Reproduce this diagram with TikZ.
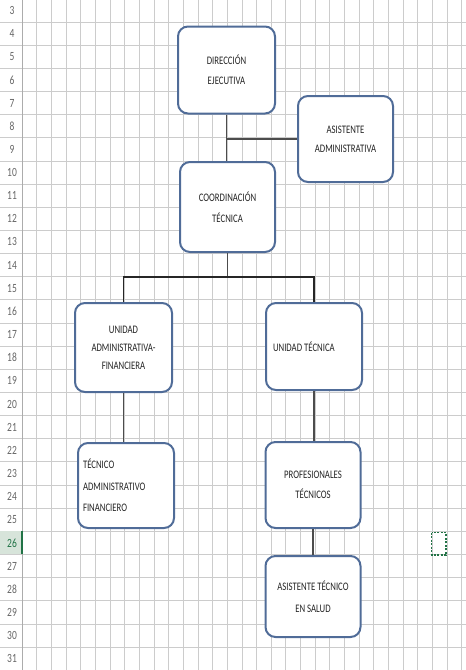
\documentclass[tikz,border=0pt]{standalone}
\usepackage{fontspec}
\setmainfont[FakeStretch=0.76]{Carlito}
\definecolor{boxblue}{RGB}{80,108,152}
\definecolor{gridgray}{RGB}{204,204,204}
\definecolor{xlgreen}{RGB}{33,115,70}
\definecolor{hdrgreen}{RGB}{215,228,218}
\begin{document}
\begin{tikzpicture}[x=1pt,y=-1pt,
  orgbox/.style={draw=boxblue, line width=2pt, rounded corners=10pt, fill=white,
    inner sep=0pt, text=black!85, align=center},
  conn/.style={draw=black!70, line width=1.2pt},
  rowlbl/.style={text=black!60, font=\fontsize{12.5}{13}\selectfont, inner sep=0pt}]
\useasboundingbox (0,0) rectangle (466,670);
\fill[white] (0,0) rectangle (466,670);
% grid
\foreach \k in {-1,...,28} \draw[gridgray, line width=0.8pt] (0,{22+\k*23.15}) -- (466,{22+\k*23.15});
\foreach \k in {1,...,30} \draw[gridgray, line width=0.8pt] ({22+\k*14.66},0) -- ({22+\k*14.66},670);
\draw[gray!65, line width=0.8pt] (22,0) -- (22,670);
% selected row header
\fill[hdrgreen] (0,531.3) rectangle (21.5,554.45);
\draw[xlgreen, line width=1.6pt] (22,531.3) -- (22,554.45);
% row numbers
\foreach \n in {3,...,25,27,28,29,30,31}
  \node[rowlbl] (row\n) at (12,{22+(\n-4)*23.15+11.6}) {\n};
\node[rowlbl, text=xlgreen] (row26) at (12,{22+22*23.15+11.6}) {26};
% selected cell
\draw[xlgreen, line width=1.5pt, dash pattern=on 2pt off 1.5pt] (431.5,532.5) rectangle (446,555);
% boxes
\node[orgbox, minimum width=97, minimum height=87, font=\fontsize{11.5}{20}\selectfont] (dir) at (226.5,70) {DIRECCIÓN\\EJECUTIVA};
\node[orgbox, minimum width=95, minimum height=86, font=\fontsize{11.5}{19}\selectfont] (asis) at (345.5,139) {ASISTENTE\\ADMINISTRATIVA};
\node[orgbox, minimum width=95, minimum height=90, font=\fontsize{11.5}{21}\selectfont] (coord) at (227.5,207) {COORDINACIÓN\\TÉCNICA};
\node[orgbox, minimum width=97, minimum height=89, font=\fontsize{11.5}{18}\selectfont] (ua) at (123.5,347.5) {UNIDAD\\ADMINISTRATIVA-\\FINANCIERA};
\node[orgbox, minimum width=96, minimum height=85, text width=86, align=flush left, font=\fontsize{11.5}{21.5}\selectfont] (tadm) at (126,485.5) {TÉCNICO\\ADMINISTRATIVO\\FINANCIERO};
\node[orgbox, minimum width=96, minimum height=87, text width=82, align=flush left, font=\fontsize{11.5}{20}\selectfont] (ut) at (314,346.5) {UNIDAD TÉCNICA};
\node[orgbox, minimum width=95, minimum height=86, font=\fontsize{11.5}{20}\selectfont] (prof) at (313,485) {PROFESIONALES\\TÉCNICOS};
\node[orgbox, minimum width=95, minimum height=81, font=\fontsize{11.5}{22}\selectfont] (ats) at (313,596.5) {ASISTENTE TÉCNICO\\EN SALUD};
% connectors
\coordinate (branch) at (227.5,277);
\draw[conn] (dir.south) -- (dir.south |- coord.north);
\draw[conn] (asis.west) -- (asis.west -| dir.south);
\draw[conn] (coord.south) -- (branch);
\draw[conn, draw=black!85] (ua.north) |- (branch) -| (ut.north);
\draw[conn] (ua.south) -- (ua.south |- tadm.north);
\draw[conn] (ut.south) -- (ut.south |- prof.north);
\draw[conn] (prof.south) -- (ats.north);
\end{tikzpicture}
\end{document}
